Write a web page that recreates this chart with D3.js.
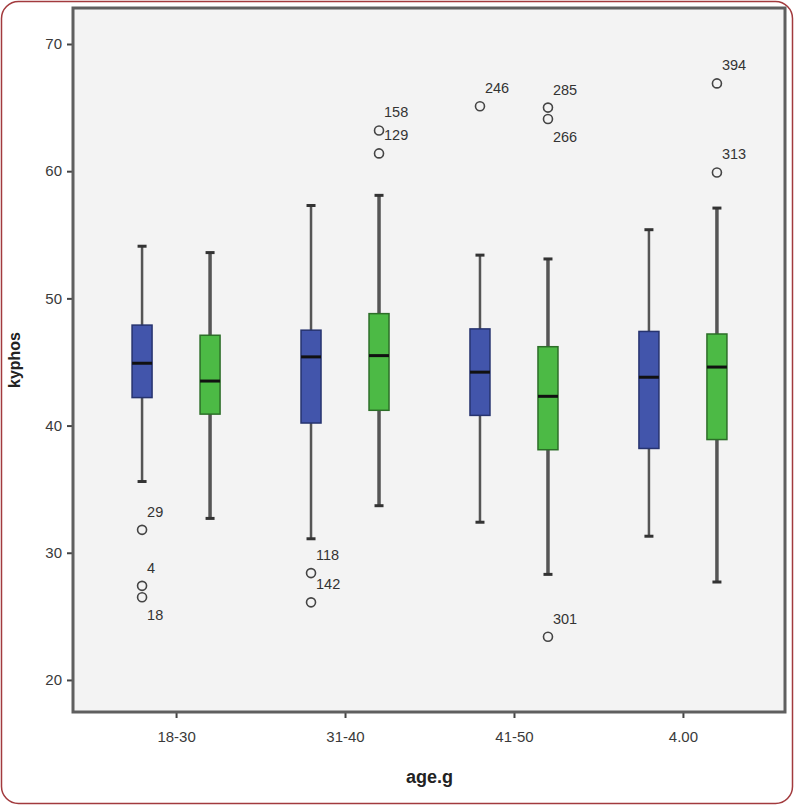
<!DOCTYPE html>
<html>
<head>
<meta charset="utf-8">
<script src="https://cdn.jsdelivr.net/npm/d3@7"></script>
<style>
  body { margin: 0; background: #fff; }
  .tick text { font-family: "Liberation Sans", Arial, sans-serif; font-size: 15px; fill: #3a3a3a; }
  .axisTitle { font-family: "Liberation Sans", Arial, sans-serif; font-weight: bold; fill: #222; }
  .outlierLabel { font-family: "Liberation Sans", Arial, sans-serif; font-size: 14.5px; fill: #333; }
</style>
</head>
<body>
<div id="chart"></div>
<script>
var svgWidth = 794;
var svgHeight = 805;

// age groups on the x axis, two series per group
var groups = ["18-30", "31-40", "41-50", "4.00"];
var series = ["1", "2"];
var yTicks = [20, 30, 40, 50, 60, 70];

// box statistics per group, series "1" (blue)
var blueLow    = [35.6, 31.1, 32.4, 31.3];
var blueQ1     = [42.2, 40.2, 40.8, 38.2];
var blueMedian = [44.9, 45.4, 44.2, 43.8];
var blueQ3     = [47.9, 47.5, 47.6, 47.4];
var blueHigh   = [54.1, 57.3, 53.4, 55.4];

// series "2" (green)
var greenLow    = [32.7, 33.7, 28.3, 27.7];
var greenQ1     = [40.9, 41.2, 38.1, 38.9];
var greenMedian = [43.5, 45.5, 42.3, 44.6];
var greenQ3     = [47.1, 48.8, 46.2, 47.2];
var greenHigh   = [53.6, 58.1, 53.1, 57.1];

// outliers: group, series, value, case id
var outGroup  = ["18-30", "18-30", "18-30", "31-40", "31-40", "31-40", "31-40", "41-50", "41-50", "41-50", "41-50", "4.00", "4.00"];
var outSeries = ["1", "1", "1", "1", "1", "2", "2", "1", "2", "2", "2", "2", "2"];
var outValue  = [31.8, 27.4, 26.5, 28.4, 26.1, 63.2, 61.4, 65.1, 65.0, 64.1, 23.4, 66.9, 59.9];
var outId     = ["29", "4", "18", "118", "142", "158", "129", "246", "285", "266", "301", "394", "313"];

var margin = { top: 8, right: 8, bottom: 93, left: 73 };
var plotRight = svgWidth - margin.right;
var plotBottom = svgHeight - margin.bottom;

var fills = { "1": "#4255ab", "2": "#4cba45" };
var strokes = { "1": "#26336f", "2": "#2c6e28" };

var boxes = [];
groups.forEach(function(g, i) {
  boxes.push({ group: g, s: "1", low: blueLow[i], q1: blueQ1[i], med: blueMedian[i], q3: blueQ3[i], high: blueHigh[i] });
  boxes.push({ group: g, s: "2", low: greenLow[i], q1: greenQ1[i], med: greenMedian[i], q3: greenQ3[i], high: greenHigh[i] });
});

var outliers = outValue.map(function(v, i) {
  return { group: outGroup[i], s: outSeries[i], value: v, id: outId[i] };
});

var svg = d3.select("#chart")
  .append("svg")
  .attr("width", svgWidth)
  .attr("height", svgHeight);

// red rounded frame round the whole figure
svg.append("rect")
  .attr("x", 1.5)
  .attr("y", 1.5)
  .attr("width", svgWidth - 3)
  .attr("height", svgHeight - 3)
  .attr("rx", 17)
  .attr("fill", "#fff")
  .attr("stroke", "#a23a3d")
  .attr("stroke-width", 1.5);

var xScale = d3.scalePoint()
  .domain(groups)
  .range([margin.left, plotRight])
  .padding(0.61);

var inner = d3.scaleBand()
  .domain(series)
  .range([-68, 68]);

var yScale = d3.scaleLinear()
  .domain([17.48, 72.83])
  .range([plotBottom, margin.top]);

var boxWidth = 20;
var cx = function(g, s) { return xScale(g) + inner(s) + inner.bandwidth() / 2; };

// plot area
svg.append("rect")
  .attr("x", margin.left)
  .attr("y", margin.top)
  .attr("width", plotRight - margin.left)
  .attr("height", plotBottom - margin.top)
  .attr("fill", "#f3f3f3");

// axes
var leftAxis = d3.axisLeft(yScale).tickValues(yTicks).tickSize(6).tickPadding(5);
var bottomAxis = d3.axisBottom(xScale).tickSize(6).tickPadding(13);

var yAxisG = svg.append("g")
  .attr("transform", `translate(${margin.left}, 0)`)
  .call(leftAxis);

var xAxisG = svg.append("g")
  .attr("transform", `translate(0, ${plotBottom})`)
  .call(bottomAxis);

[yAxisG, xAxisG].forEach(function(a) {
  a.select(".domain").remove();
  a.selectAll(".tick line").attr("stroke", "#444").attr("stroke-width", 2);
});

// frame of the plot
svg.append("rect")
  .attr("x", margin.left)
  .attr("y", margin.top)
  .attr("width", plotRight - margin.left - 1)
  .attr("height", plotBottom - margin.top)
  .attr("fill", "none")
  .attr("stroke", "#5f5f5f")
  .attr("stroke-width", 3);

// whiskers
var boxG = svg.append("g");

boxG.selectAll(".whisker")
  .data(boxes)
  .enter()
  .append("line")
  .attr("x1", d => cx(d.group, d.s))
  .attr("x2", d => cx(d.group, d.s))
  .attr("y1", d => yScale(d.low))
  .attr("y2", d => yScale(d.high))
  .attr("stroke", "#555")
  .attr("stroke-width", d => d.s === "1" ? 2.5 : 3.5);

["low", "high"].forEach(function(k) {
  boxG.selectAll(".cap-" + k)
    .data(boxes)
    .enter()
    .append("line")
    .attr("x1", d => cx(d.group, d.s) - 4.5)
    .attr("x2", d => cx(d.group, d.s) + 4.5)
    .attr("y1", d => yScale(d[k]))
    .attr("y2", d => yScale(d[k]))
    .attr("stroke", "#333")
    .attr("stroke-width", 3);
});

// boxes
boxG.selectAll(".box")
  .data(boxes)
  .enter()
  .append("rect")
  .attr("x", d => cx(d.group, d.s) - boxWidth / 2)
  .attr("y", d => yScale(d.q3))
  .attr("width", boxWidth)
  .attr("height", d => yScale(d.q1) - yScale(d.q3))
  .attr("fill", d => fills[d.s])
  .attr("stroke", d => strokes[d.s])
  .attr("stroke-width", 1.5);

boxG.selectAll(".median")
  .data(boxes)
  .enter()
  .append("line")
  .attr("x1", d => cx(d.group, d.s) - boxWidth / 2)
  .attr("x2", d => cx(d.group, d.s) + boxWidth / 2)
  .attr("y1", d => yScale(d.med))
  .attr("y2", d => yScale(d.med))
  .attr("stroke", "#111")
  .attr("stroke-width", 3);

// outliers
boxG.selectAll(".outlier")
  .data(outliers)
  .enter()
  .append("circle")
  .attr("cx", d => cx(d.group, d.s))
  .attr("cy", d => yScale(d.value))
  .attr("r", 4.5)
  .attr("fill", "none")
  .attr("stroke", "#444")
  .attr("stroke-width", 1.6);

// a label goes above-right, unless it is the lower of two touching circles
function labelBelow(d) {
  return outliers.some(function(o) {
    return o !== d && o.group === d.group && o.s === d.s &&
      yScale(o.value) < yScale(d.value) && yScale(d.value) - yScale(o.value) < 15;
  });
}

boxG.selectAll(".outlierLabel")
  .data(outliers)
  .enter()
  .append("text")
  .classed("outlierLabel", true)
  .attr("x", d => cx(d.group, d.s) + 5)
  .attr("y", d => yScale(d.value) + (labelBelow(d) ? 23 : -13))
  .text(d => d.id);

// axis titles
svg.append("text")
  .classed("axisTitle", true)
  .attr("transform", `translate(20, ${(margin.top + plotBottom) / 2}) rotate(-90)`)
  .attr("text-anchor", "middle")
  .style("font-size", "16px")
  .text("kyphos");

svg.append("text")
  .classed("axisTitle", true)
  .attr("x", (margin.left + plotRight) / 2)
  .attr("y", 783)
  .attr("text-anchor", "middle")
  .style("font-size", "18px")
  .text("age.g");
</script>
</body>
</html>
